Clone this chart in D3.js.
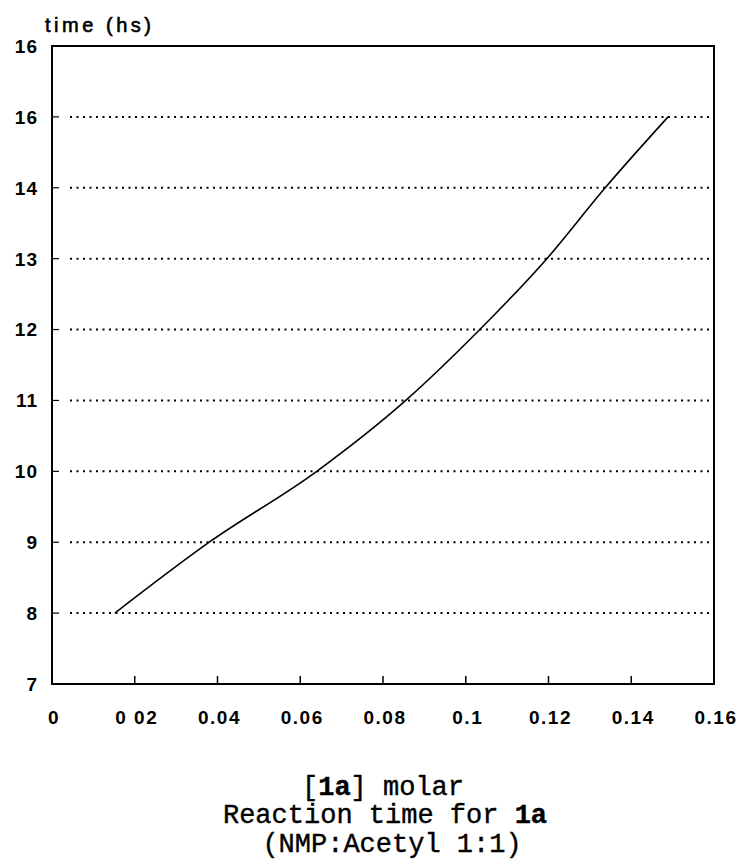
<!DOCTYPE html>
<html>
<head>
<meta charset="utf-8">
<script src="https://cdn.jsdelivr.net/npm/d3@7"></script>
<style>
  html, body { margin: 0; padding: 0; background: #fff; }
  svg { display: block; }
</style>
</head>
<body>
<svg id="chart" width="739" height="865"></svg>
<script>
// ---- data ----
const concentration = [0.0152, 0.038, 0.064, 0.0855, 0.1034, 0.1196, 0.1337, 0.1489];
const timeHs        = [8, 9, 10, 11, 12, 13, 14, 15];
const yTickValues   = [7, 8, 9, 10, 11, 12, 13, 14, 15, 16];
const yTickLabels   = ["7", "8", "9", "10", "11", "12", "13", "14", "16", "16"];
const xTickValues   = [0, 0.02, 0.04, 0.06, 0.08, 0.1, 0.12, 0.14, 0.16];
const xTickLabels   = ["0", "0 02", "0.04", "0.06", "0.08", "0.1", "0.12", "0.14", "0.16"];
const gridValues    = [8, 9, 10, 11, 12, 13, 14, 15];

const svg = d3.select("#chart");
const x = d3.scaleLinear().domain([0, 0.16]).range([52, 714]);
const y = d3.scaleLinear().domain([7, 16]).range([684, 46]);

const sans = "'Liberation Sans', Arial, sans-serif";
const mono = "'Liberation Mono', 'Courier New', monospace";

// grid lines (dotted)
svg.append("g").selectAll("line.grid").data(gridValues).join("line")
  .attr("x1", x(0) + 18).attr("x2", x(0.16) - 2)
  .attr("y1", d => y(d)).attr("y2", d => y(d))
  .attr("stroke", "#000").attr("stroke-width", 2)
  .attr("stroke-dasharray", "2,4.5");

// left-axis short ticks
svg.append("g").selectAll("line.lt").data(gridValues).join("line")
  .attr("x1", x(0)).attr("x2", x(0) + 7)
  .attr("y1", d => y(d)).attr("y2", d => y(d))
  .attr("stroke", "#000").attr("stroke-width", 1.2);

// bottom-axis ticks (pointing up)
svg.append("g").selectAll("line.bt").data(xTickValues.slice(1, -1)).join("line")
  .attr("x1", d => x(d)).attr("x2", d => x(d))
  .attr("y1", y(7)).attr("y2", y(7) - 8)
  .attr("stroke", "#000").attr("stroke-width", 1.5);

// frame
svg.append("rect")
  .attr("x", x(0)).attr("y", y(16))
  .attr("width", x(0.16) - x(0)).attr("height", y(7) - y(16))
  .attr("fill", "none").attr("stroke", "#000").attr("stroke-width", 2);

// curve
const pts = concentration.map((c, i) => [c, timeHs[i]]);
svg.append("path").datum(pts)
  .attr("d", d3.line().x(d => x(d[0])).y(d => y(d[1])).curve(d3.curveMonotoneX))
  .attr("fill", "none").attr("stroke", "#000").attr("stroke-width", 1.6);

// y tick labels
svg.append("g").selectAll("text").data(yTickValues).join("text")
  .attr("x", 38).attr("y", d => y(d))
  .attr("dy", "0.36em")
  .attr("text-anchor", "end")
  .attr("font-family", sans).attr("font-weight", "bold").attr("font-size", 19)
  .attr("letter-spacing", 1)
  .text((d, i) => yTickLabels[i]);

// x tick labels
svg.append("g").selectAll("text").data(xTickValues).join("text")
  .attr("x", d => x(d) + 2).attr("y", 724)
  .attr("text-anchor", "middle")
  .attr("font-family", sans).attr("font-weight", "bold").attr("font-size", 19)
  .attr("letter-spacing", 1.5)
  .text((d, i) => xTickLabels[i]);

// y axis title
svg.append("text").attr("x", 45).attr("y", 32)
  .attr("font-family", sans).attr("font-size", 20)
  .attr("stroke", "#000").attr("stroke-width", 0.6)
  .attr("textLength", 106).attr("lengthAdjust", "spacing")
  .text("time (hs)");

// bottom title lines
const t1 = svg.append("text").attr("x", 383).attr("y", 795)
  .attr("text-anchor", "middle").attr("font-family", mono).attr("font-size", 27)
  .attr("stroke", "#000").attr("stroke-width", 0.4);
t1.append("tspan").text("[");
t1.append("tspan").attr("font-weight", "bold").text("1a");
t1.append("tspan").text("] molar");

const t2 = svg.append("text").attr("x", 385).attr("y", 823)
  .attr("text-anchor", "middle").attr("font-family", mono).attr("font-size", 27)
  .attr("stroke", "#000").attr("stroke-width", 0.4);
t2.append("tspan").text("Reaction time for ");
t2.append("tspan").attr("font-weight", "bold").text("1a");

svg.append("text").attr("x", 392).attr("y", 852)
  .attr("text-anchor", "middle").attr("font-family", mono).attr("font-size", 27)
  .attr("stroke", "#000").attr("stroke-width", 0.4)
  .text("(NMP:Acetyl 1:1)");
</script>
</body>
</html>
